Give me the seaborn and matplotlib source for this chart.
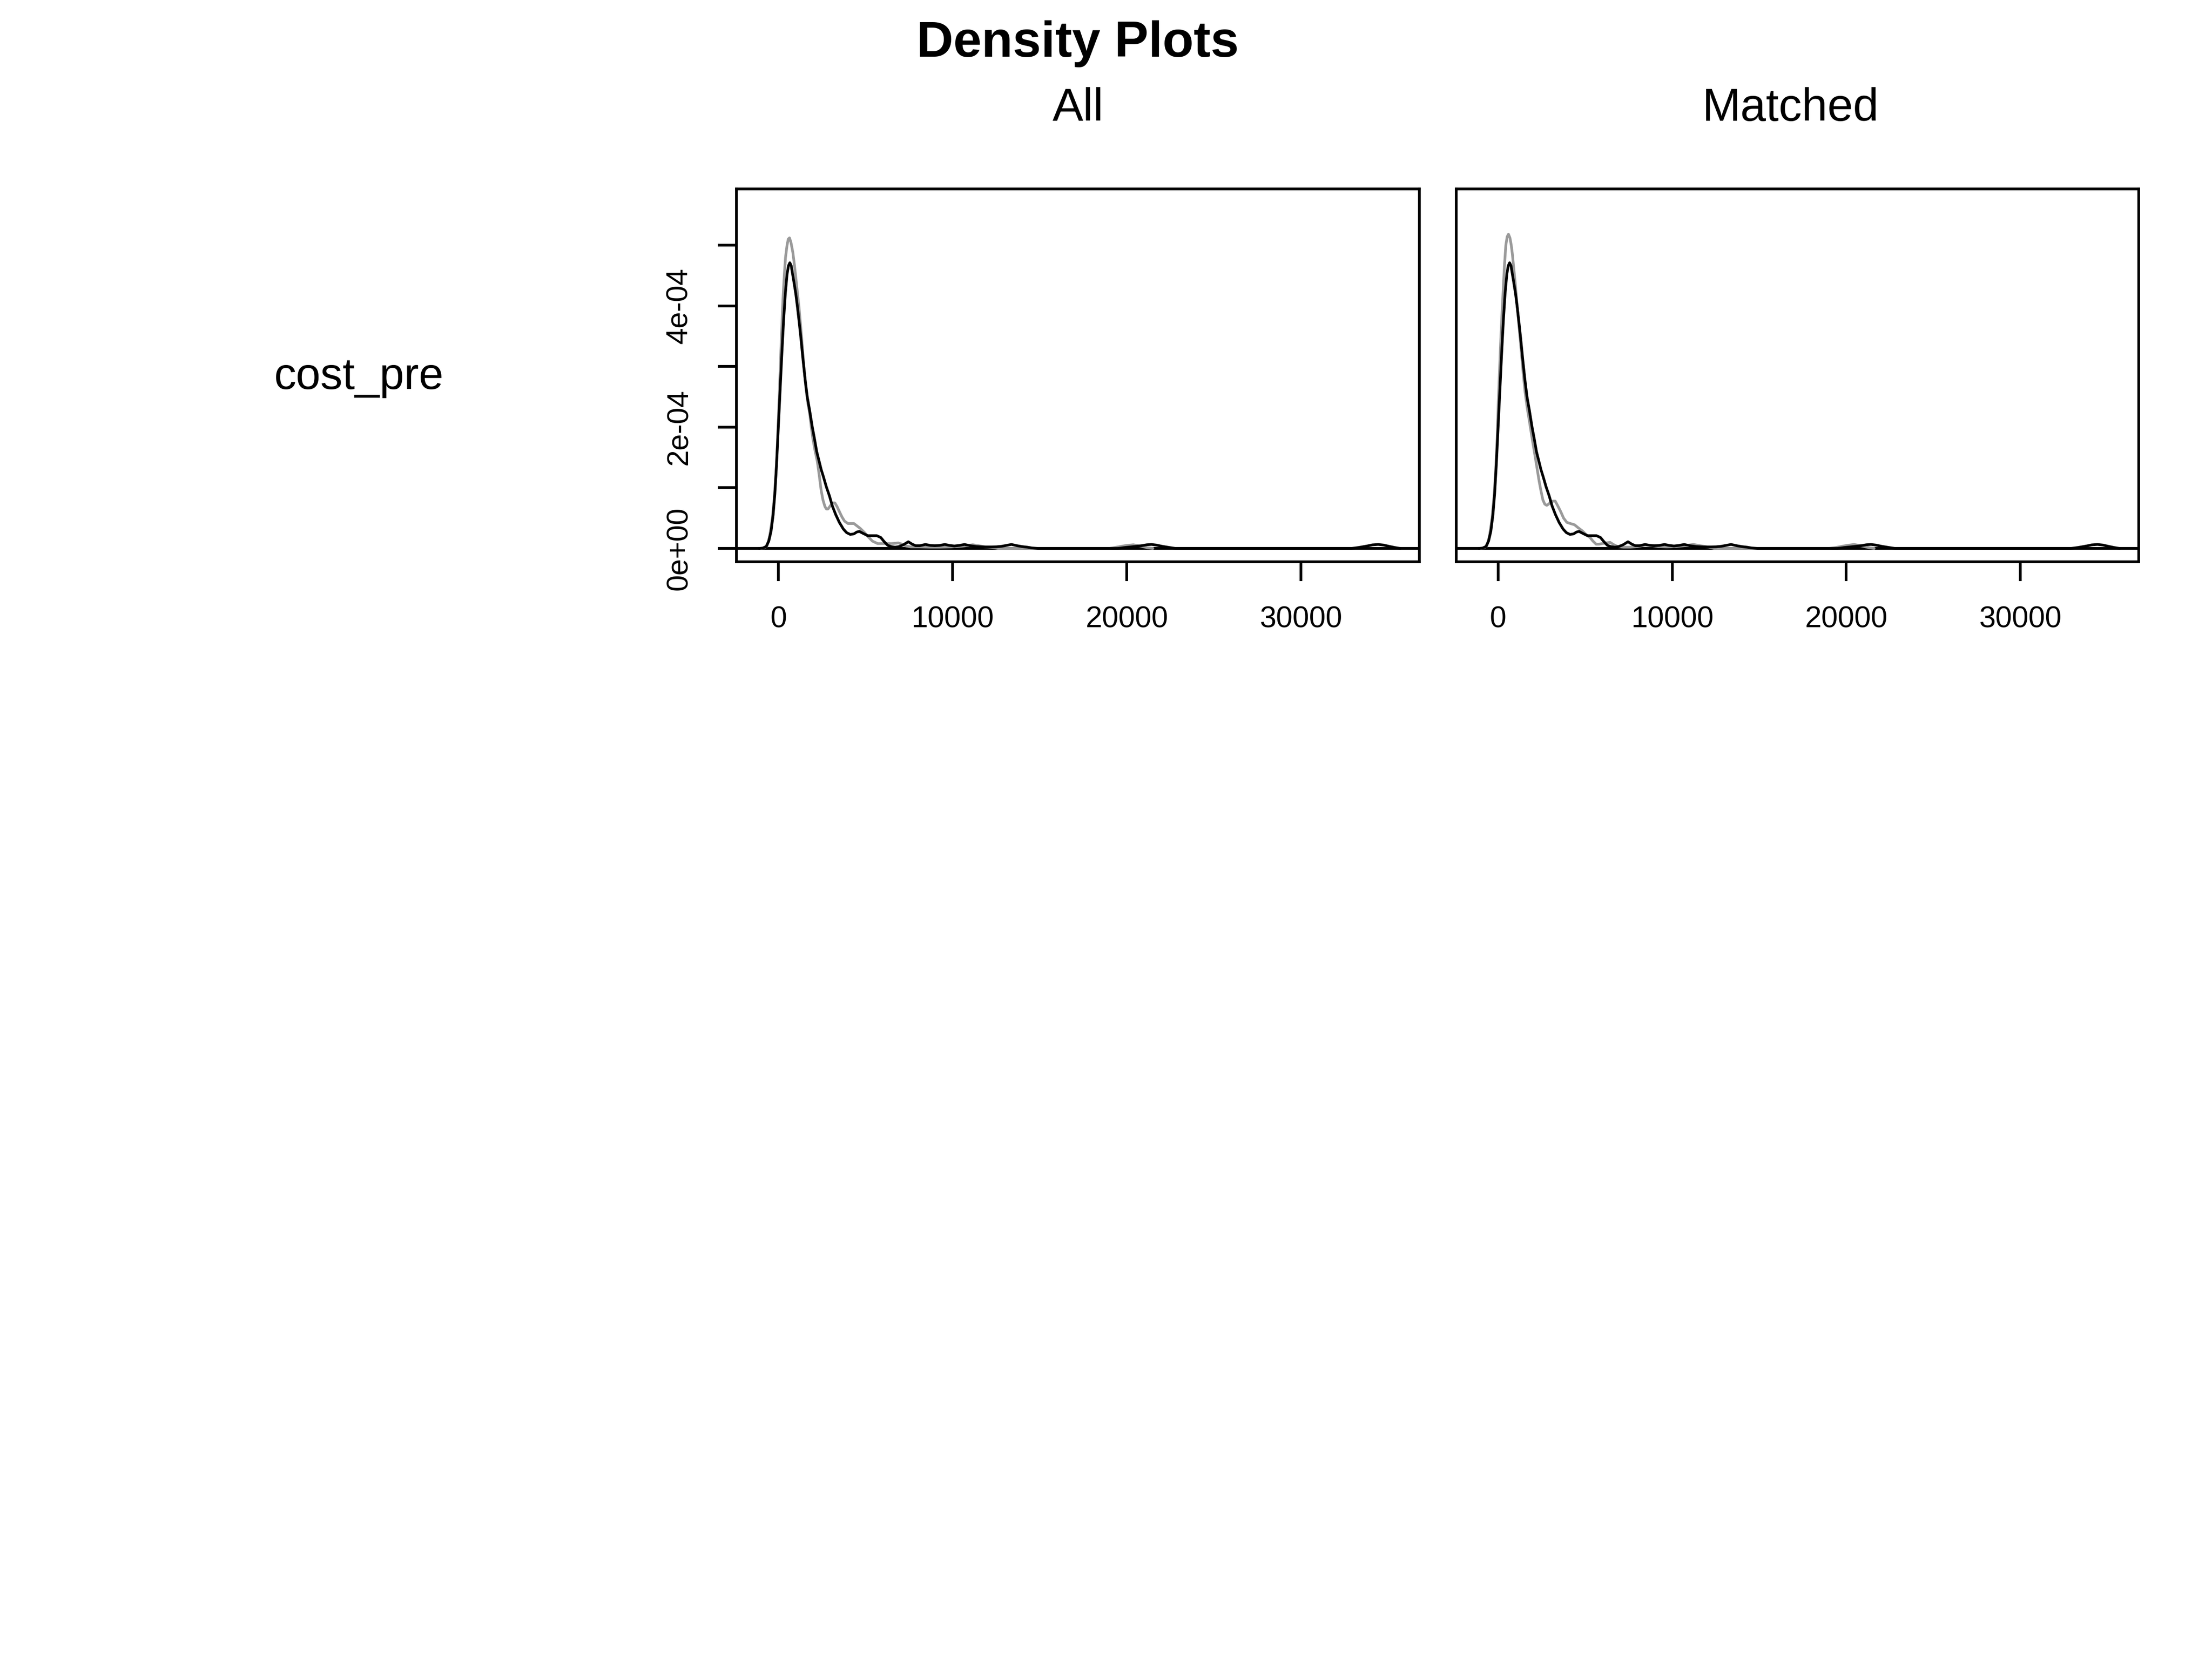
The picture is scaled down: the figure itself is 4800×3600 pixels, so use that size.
import numpy as np
import pandas as pd
import matplotlib
matplotlib.use("Agg")
import matplotlib.pyplot as plt
import seaborn as sns

# ---------------- data ----------------
SCALE = 1e-4  # density values below are given in units of 1e-4

treated_x = [-1100, -900, -700, -550, -420, -300, -200, -100, 0, 100, 200, 300, 400, 500, 580,
             660, 740, 820, 900, 1000, 1100, 1200, 1300, 1420, 1540, 1660, 1800, 1950, 2080,
             2200, 2330, 2460, 2600, 2750, 2940, 3100, 3290, 3500, 3730, 3920, 4130, 4340,
             4500, 4650, 4850, 5130, 5400, 5650, 5880, 6080, 6280, 6480, 6700, 6920, 7180,
             7460, 7680, 7880, 8120, 8440, 8720, 8980, 9260, 9560, 9820, 10100, 10400, 10690,
             11000, 11400, 11800, 12220, 12520, 12820, 13100, 13380, 13700, 14000, 14300,
             14550, 14900, 19500, 19900, 20400, 20850, 21150, 21420, 21700, 22030, 22450,
             22800, 32900, 33310, 33800, 34100, 34430, 34750, 35050, 35380, 35700]
treated_d = [0, 0.005, 0.03, 0.12, 0.28, 0.55, 0.9, 1.4, 2.0, 2.6, 3.2, 3.75, 4.2, 4.52, 4.66,
             4.71, 4.66, 4.52, 4.38, 4.2, 3.97, 3.72, 3.45, 3.1, 2.78, 2.5, 2.27, 2.0, 1.8,
             1.6, 1.45, 1.3, 1.17, 1.02, 0.86, 0.7, 0.56, 0.43, 0.32, 0.26, 0.23, 0.24,
             0.27, 0.28, 0.25, 0.21, 0.21, 0.21, 0.18, 0.11, 0.05, 0.03, 0.02, 0.03, 0.06,
             0.11, 0.07, 0.045, 0.045, 0.065, 0.05, 0.045, 0.05, 0.065, 0.05, 0.04, 0.05, 0.065,
             0.045, 0.03, 0.025, 0.025, 0.027, 0.035, 0.05, 0.065, 0.045, 0.03, 0.02,
             0.008, 0.0, 0.0, 0.015, 0.03, 0.045, 0.06, 0.065, 0.055, 0.035, 0.015,
             0.0, 0.0, 0.015, 0.04, 0.058, 0.065, 0.055, 0.035, 0.015, 0.0]

control_all_x = [-1000, -800, -650, -500, -350, -230, -130, -60, 0, 70, 132, 200, 263, 340, 412,
                 500, 570, 640, 720, 833, 920, 1009, 1100, 1184, 1270, 1360, 1470, 1580, 1690,
                 1800, 1890, 1975, 2100, 2240, 2350, 2456, 2560, 2675, 2760, 2850, 2950, 3050,
                 3150, 3245, 3370, 3500, 3650, 3800, 4000, 4170, 4340, 4520, 4700, 4950, 5130,
                 5400, 5700, 6100, 6500, 6890, 7100, 7330, 7600, 8080, 8680, 9300, 9900, 10500,
                 11160, 11500, 11870, 12280, 12600, 19000, 19310, 19900, 20380, 20850, 21200, 21500]
control_all_d = [0, 0.01, 0.04, 0.2, 0.49, 0.85, 1.27, 1.7, 2.14, 2.65, 3.16, 3.65, 4.10, 4.5, 4.80,
                 5.0, 5.1, 5.12, 5.05, 4.88, 4.68, 4.45, 4.2, 3.98, 3.7, 3.39, 3.0, 2.65, 2.4,
                 2.22, 2.0, 1.82, 1.62, 1.43, 1.2, 0.96, 0.8, 0.69, 0.65, 0.65, 0.69, 0.73,
                 0.75, 0.75, 0.69, 0.61, 0.52, 0.45, 0.41, 0.41, 0.41, 0.37, 0.33, 0.26, 0.20,
                 0.12, 0.08, 0.08, 0.08, 0.09, 0.07, 0.04, 0.025, 0.025, 0.02, 0.02, 0.025, 0.035,
                 0.06, 0.045, 0.025, 0.015, 0.0, 0.0, 0.015, 0.045, 0.06, 0.035, 0.01, 0.0]

control_matched_x = [-1000, -800, -650, -500, -350, -230, -133, -60, 0, 70, 133, 210, 284, 360,
                     443, 520, 594, 680, 754, 820, 887, 980, 1064, 1170, 1286, 1420, 1551, 1680,
                     1817, 1950, 2083, 2220, 2349, 2460, 2571, 2680, 2793, 2900, 3014, 3150, 3280,
                     3430, 3590, 3760, 3945, 4150, 4388, 4600, 4832, 5050, 5275, 5450, 5630, 5800,
                     5984, 6200, 6427, 6650, 6871, 7200, 7600, 8000, 8440, 8800, 9200, 9700, 10200,
                     10700, 11220, 11700, 12100, 12400, 19000, 19400, 19950, 20440, 20900, 21300, 21600]
control_matched_d = [0, 0.01, 0.04, 0.2, 0.5, 0.88, 1.35, 1.8, 2.33, 2.85, 3.31, 3.8, 4.22, 4.65,
                     5.0, 5.14, 5.18, 5.12, 5.0, 4.85, 4.65, 4.38, 4.10, 3.75, 3.39, 2.95, 2.57, 2.3,
                     2.06, 1.82, 1.59, 1.35, 1.12, 0.95, 0.80, 0.73, 0.71, 0.73, 0.76, 0.78, 0.78,
                     0.70, 0.61, 0.5, 0.43, 0.41, 0.39, 0.34, 0.29, 0.23, 0.18, 0.12, 0.07, 0.07,
                     0.08, 0.09, 0.10, 0.06, 0.03, 0.02, 0.02, 0.03, 0.055, 0.05, 0.03, 0.025, 0.03,
                     0.045, 0.065, 0.04, 0.02, 0.0, 0.0, 0.015, 0.045, 0.065, 0.04, 0.012, 0.0]

x_ticks = [0, 10000, 20000, 30000]
x_tick_labels = ["0", "10000", "20000", "30000"]
y_ticks = [0, 1e-4, 2e-4, 3e-4, 4e-4, 5e-4]
y_tick_labels = ["0e+00", "", "2e-04", "", "4e-04", ""]
panel_titles = ["All", "Matched"]
variable_name = "cost_pre"
main_title = "Density Plots"

# ---------------- styling ----------------
sns.set_theme(style="white")
plt.rcParams["font.family"] = ["Liberation Sans", "DejaVu Sans"]
LW = 1.4
GRAY = "#9a9a9a"

fig = plt.figure(figsize=(16, 12), dpi=300)
fig.patch.set_facecolor("white")

ax1 = fig.add_axes([0.33292, 0.66139, 0.30875, 0.22472])
ax2 = fig.add_axes([0.65833, 0.66139, 0.30854, 0.22472])

def draw_panel(ax, cx, cd, show_y):
    ax.axhline(0, color="black", lw=LW, zorder=1)
    sns.lineplot(x=np.array(cx), y=np.array(cd) * SCALE, ax=ax, color=GRAY, lw=LW,
                 estimator=None, zorder=2)
    sns.lineplot(x=np.array(treated_x), y=np.array(treated_d) * SCALE, ax=ax, color="black",
                 lw=LW, estimator=None, zorder=3)
    ax.set_xlim(-2407, 36799)
    ax.set_ylim(-0.22e-4, 5.927e-4)
    ax.set_xlabel("")
    ax.set_ylabel("")
    ax.set_facecolor("white")
    for sp in ax.spines.values():
        sp.set_visible(True)
        sp.set_color("black")
        sp.set_linewidth(LW)
    ax.set_xticks(x_ticks)
    ax.set_xticklabels(x_tick_labels)
    ax.tick_params(axis="x", direction="out", length=10, width=LW, color="black",
                   labelsize=15.5, pad=13, bottom=True, labelcolor="black")
    if show_y:
        ax.set_yticks(y_ticks)
        ax.set_yticklabels(y_tick_labels)
        ax.tick_params(axis="y", direction="out", length=9.5, width=LW, color="black",
                       labelsize=15.5, pad=13, left=True, labelcolor="black")
        plt.setp(ax.get_yticklabels(), rotation=90, va="center", ha="right")
    else:
        ax.set_yticks([])
        ax.tick_params(axis="y", left=False, labelleft=False)
    ax.grid(False)

draw_panel(ax1, control_all_x, control_all_d, True)
draw_panel(ax2, control_matched_x, control_matched_d, False)

fig.text(0.4873, 0.9658, main_title, ha="center", va="baseline", fontsize=26.5,
         fontweight="bold", color="black")
fig.text(0.4873, 0.9272, panel_titles[0], ha="center", va="baseline", fontsize=24, color="black")
fig.text(0.8094, 0.9272, panel_titles[1], ha="center", va="baseline", fontsize=24, color="black")
fig.text(0.1623, 0.7656, variable_name, ha="center", va="baseline", fontsize=23, color="black")

fig.savefig("out.png", dpi=300, facecolor="white")
